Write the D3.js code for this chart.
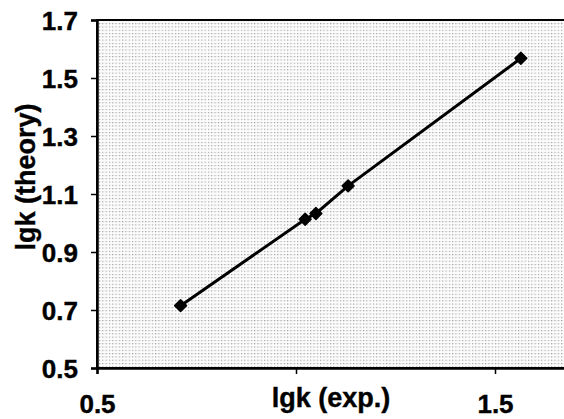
<!DOCTYPE html>
<html>
<head>
<meta charset="utf-8">
<script src="https://cdn.jsdelivr.net/npm/d3@7"></script>
<style>
  html, body { margin: 0; padding: 0; background: #fff; overflow: hidden; }
  svg { display: block; }
  text { font-family: "Liberation Sans", Arial, sans-serif; font-weight: bold; fill: #000; }
</style>
</head>
<body>
<svg id="chart" width="564" height="419"></svg>
<script>
// data
const lgkExp = [0.71, 1.023, 1.05, 1.131, 1.565];
const lgkTheory = [0.715, 1.013, 1.033, 1.128, 1.568];
const yTicks = [0.5, 0.7, 0.9, 1.1, 1.3, 1.5, 1.7];
const xTicks = [0.5, 1.0, 1.5];
const xTickLabels = ['0.5', '', '1.5'];

const svg = d3.select('#chart');

// plot area (right edge runs past the window, like the scan)
const x = d3.scaleLinear().domain([0.5, 1.7]).range([97, 574.6]);
const y = d3.scaleLinear().domain([0.5, 1.7]).range([368, 20]);

// stipple fill, like the old Excel "gray" plot area
const defs = svg.append('defs');
const pat = defs.append('pattern')
  .attr('id', 'stipple')
  .attr('patternUnits', 'userSpaceOnUse')
  .attr('width', 3.3).attr('height', 3.3);
pat.append('rect').attr('width', 3.3).attr('height', 3.3).attr('fill', '#fcfcfc');
pat.append('rect').attr('x', 0).attr('y', 0).attr('width', 1.1).attr('height', 1.1).attr('fill', '#9a9a9a');
pat.append('rect').attr('x', 1.6).attr('y', 0).attr('width', 0.7).attr('height', 0.7).attr('fill', '#dddddd');

svg.append('rect')
  .attr('x', x(0.5)).attr('y', y(1.7))
  .attr('width', x(1.7) - x(0.5)).attr('height', y(0.5) - y(1.7))
  .attr('fill', 'url(#stipple)')
  .attr('stroke', '#000').attr('stroke-width', 2);

// axes
const yAxis = d3.axisLeft(y).tickValues(yTicks).tickSize(6).tickFormat(d3.format('.1f'));
const gy = svg.append('g').attr('transform', `translate(${x(0.5)},0)`).call(yAxis);
gy.select('.domain').attr('stroke-width', 2.5);
gy.selectAll('.tick line').attr('stroke-width', 1.5);
gy.selectAll('.tick text')
  .attr('x', -19)
  .attr('dy', '0.36em')
  .style('font-size', '26px')
  .style('font-family', '"Liberation Sans", Arial, sans-serif')
  .style('font-weight', 'bold')
  .style('stroke', '#000').style('stroke-width', 0.4);

const xAxis = d3.axisBottom(x).tickValues(xTicks).tickSize(6).tickFormat((d, i) => xTickLabels[i]);
const gx = svg.append('g').attr('transform', `translate(0,${y(0.5)})`).call(xAxis);
gx.select('.domain').attr('stroke-width', 2.5);
gx.selectAll('.tick line').attr('stroke-width', 1.5);
gx.selectAll('.tick text')
  .attr('y', 45)
  .attr('dy', 0)
  .style('font-size', '26px')
  .style('font-family', '"Liberation Sans", Arial, sans-serif')
  .style('font-weight', 'bold')
  .style('stroke', '#000').style('stroke-width', 0.4);

// axis titles
svg.append('text')
  .attr('x', 331).attr('y', 407)
  .attr('text-anchor', 'middle')
  .style('font-size', '27px')
  .style('stroke', '#000').style('stroke-width', 0.4)
  .text('lgk (exp.)');

svg.append('text')
  .attr('transform', 'translate(35,177) rotate(-90)')
  .attr('text-anchor', 'middle')
  .style('font-size', '27px')
  .style('stroke', '#000').style('stroke-width', 0.4)
  .text('lgk (theory)');

// series
const pts = lgkExp.map((v, i) => [v, lgkTheory[i]]);
svg.append('path')
  .datum(pts)
  .attr('fill', 'none')
  .attr('stroke', '#000')
  .attr('stroke-width', 3)
  .attr('d', d3.line().x(d => x(d[0])).y(d => y(d[1])));

svg.selectAll('.pt')
  .data(pts)
  .join('path')
  .attr('class', 'pt')
  .attr('transform', d => `translate(${x(d[0])},${y(d[1])}) rotate(45)`)
  .attr('d', d3.symbol().type(d3.symbolSquare).size(70))
  .attr('fill', '#000')
  .attr('stroke', '#000')
  .attr('stroke-width', 1.5)
  .attr('stroke-linejoin', 'round');
</script>
</body>
</html>
